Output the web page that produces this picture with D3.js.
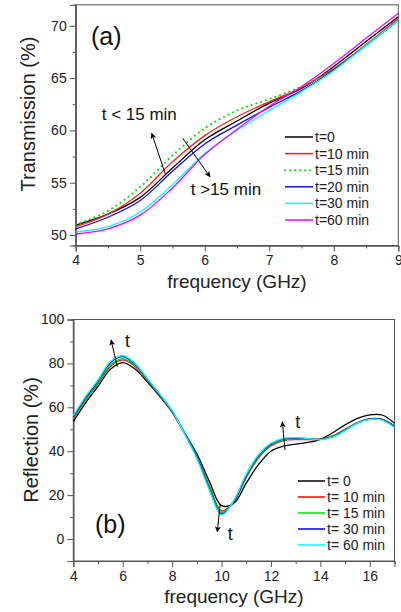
<!DOCTYPE html>
<html><head><meta charset="utf-8">
<script src="https://cdn.jsdelivr.net/npm/d3@7"></script>
<style>
html,body{margin:0;padding:0;background:#fff;}
svg{display:block;font-family:"Liberation Sans",Arial,sans-serif;}
</style></head>
<body>
<svg id="c" width="401" height="612"></svg>
<script>
// ---------- Panel (a) data: Transmission ----------
const freqA = [4, 4.5, 5, 5.5, 6, 6.5, 7, 7.5, 8, 8.5, 9];
const seriesNamesA = ["t=0", "t=10 min", "t=15 min", "t=20 min", "t=30 min", "t=60 min"];
const colorsA = ["#000000", "#ff2020", "#00e000", "#1010e0", "#00ffff", "#ff00ff"];
const trans_t0  = [50.95, 52.0, 53.6, 56.4, 59.1, 60.9, 62.6, 64.0, 66.1, 68.5, 70.85];
const trans_t10 = [50.8, 52.0, 54.0, 57.0, 59.5, 61.3, 62.75, 64.1, 65.9, 68.2, 70.7];
const trans_t15 = [51.0, 52.3, 54.6, 57.6, 60.2, 61.9, 63.0, 64.2, 65.9, 68.2, 70.5];
const trans_t20 = [50.6, 51.7, 53.3, 56.1, 58.7, 60.5, 62.2, 63.8, 65.8, 68.1, 70.5];
const trans_t30 = [50.3, 50.8, 52.2, 54.8, 57.8, 60.0, 61.9, 63.7, 65.7, 68.1, 70.5];
const trans_t60 = [50.1, 50.6, 51.9, 54.5, 57.7, 60.1, 62.3, 64.2, 66.4, 68.8, 71.2];
const xTicksA = [4, 5, 6, 7, 8, 9];
const yTicksA = [50, 55, 60, 65, 70];

// ---------- Panel (b) data: Reflection ----------
const freqB = [4, 4.5, 5, 5.5, 6, 6.5, 7, 7.5, 8, 8.5, 9, 9.5, 10, 10.5, 11, 11.5, 12, 12.5, 13, 13.5, 14, 14.5, 15, 15.5, 16, 16.5, 17];
const seriesNamesB = ["t= 0", "t= 10 min", "t= 15 min", "t= 30 min", "t= 60 min"];
const colorsB = ["#000000", "#ff0000", "#00e000", "#0000ff", "#00ffff"];
const refl_t0  = [53.5, 62.0, 69.5, 77.3, 80.4, 77.5, 71.5, 65.0, 57.8, 48.5, 38.8, 26.5, 15.2, 16.3, 25.5, 34.0, 40.0, 42.3, 43.2, 44.0, 45.4, 48.4, 52.0, 55.0, 56.6, 56.5, 52.7];
const refl_t10 = [54.8, 63.3, 70.7, 78.6, 81.6, 78.6, 72.2, 65.5, 58.0, 48.3, 37.9, 24.5, 12.8, 17.0, 28.0, 37.0, 42.5, 44.8, 45.3, 45.3, 45.5, 47.0, 50.0, 53.0, 54.8, 54.6, 51.5];
const refl_t15 = [55.2, 63.8, 71.2, 79.3, 82.2, 79.0, 72.5, 65.7, 58.1, 48.2, 37.7, 23.8, 12.2, 17.2, 28.5, 37.6, 43.0, 45.2, 45.6, 45.5, 45.5, 46.9, 49.8, 52.9, 54.7, 54.5, 51.3];
const refl_t30 = [55.7, 64.4, 71.9, 80.3, 83.1, 79.6, 72.8, 65.9, 58.3, 48.1, 37.2, 23.0, 11.5, 17.4, 29.0, 38.1, 43.3, 45.6, 46.0, 45.7, 45.4, 46.6, 49.6, 52.9, 54.6, 54.4, 51.1];
const refl_t60 = [56.2, 65.0, 72.5, 80.9, 83.6, 80.0, 73.0, 66.0, 58.5, 48.0, 36.7, 22.5, 11.0, 17.6, 29.5, 38.5, 43.6, 45.9, 46.2, 45.8, 45.2, 46.4, 49.4, 52.8, 54.5, 54.2, 50.8];
const xTicksB = [4, 6, 8, 10, 12, 14, 16];
const yTicksB = [0, 20, 40, 60, 80, 100];

const svg = d3.select("#c");

// arrow marker
svg.append("defs").append("marker")
  .attr("id", "ah").attr("viewBox", "0 0 10 10").attr("refX", 9).attr("refY", 5)
  .attr("markerWidth", 7).attr("markerHeight", 6).attr("markerUnits", "userSpaceOnUse")
  .attr("orient", "auto")
  .append("path").attr("d", "M0,0 L10,5 L0,10 L2.5,5 Z").attr("fill", "#000");

function panel(opt) {
  const g = svg.append("g");
  const x = d3.scaleLinear().domain(opt.xDomain).range([opt.left, opt.right]);
  const y = d3.scaleLinear().domain(opt.yDomain).range([opt.bottom, opt.top]);

  // frame
  g.append("rect").attr("x", opt.left).attr("y", opt.top)
    .attr("width", opt.right - opt.left).attr("height", opt.bottom - opt.top)
    .attr("fill", "none").attr("stroke", "#555").attr("stroke-width", 1);

  // minor ticks
  const gxm = g.append("g").attr("transform", `translate(0,${opt.bottom})`)
    .call(d3.axisBottom(x).tickValues(opt.xMinor).tickSize(3).tickFormat(""));
  const gym = g.append("g").attr("transform", `translate(${opt.left},0)`)
    .call(d3.axisLeft(y).tickValues(opt.yMinor).tickSize(3).tickFormat(""));
  // major ticks
  const gx = g.append("g").attr("transform", `translate(0,${opt.bottom})`)
    .call(d3.axisBottom(x).tickValues(opt.xTicks).tickSize(6).tickPadding(4).tickFormat(d3.format("d")));
  const gy = g.append("g").attr("transform", `translate(${opt.left},0)`)
    .call(d3.axisLeft(y).tickValues(opt.yTicks).tickSize(6).tickPadding(3).tickFormat(d3.format("d")));
  [gxm, gym, gx, gy].forEach(a => {
    a.select(".domain").attr("stroke", "#555");
    a.selectAll("line").attr("stroke", "#555");
    a.selectAll("text").attr("font-size", 14).attr("fill", "#222")
      .attr("font-family", '"Liberation Sans",Arial,sans-serif');
  });

  // lines
  const line = d3.line().x(d => x(d[0])).y(d => y(d[1])).curve(d3.curveCatmullRom.alpha(0.5));
  opt.series.forEach((s, i) => {
    g.append("path").datum(opt.freq.map((f, k) => [f, s[k]]))
      .attr("d", line).attr("fill", "none").attr("stroke", opt.colors[i])
      .attr("stroke-width", opt.dash && opt.dash[i] ? 2 : 1.3)
      .attr("stroke-dasharray", opt.dash && opt.dash[i] ? opt.dash[i] : null)
      .attr("stroke-linecap", opt.dash && opt.dash[i] ? "round" : null);
  });

  // axis titles
  g.append("text").attr("x", (opt.left + opt.right) / 2).attr("y", opt.xTitleY)
    .attr("text-anchor", "middle").attr("font-size", 19).attr("fill", "#222").text("frequency (GHz)");
  g.append("text").attr("transform", `translate(${opt.yTitleX},${opt.yTitleCY}) rotate(-90)`)
    .attr("text-anchor", "middle").attr("font-size", 20).attr("fill", "#222").text(opt.yTitle);

  // legend
  opt.names.forEach((n, i) => {
    const ly = opt.legY + i * opt.legStep;
    g.append("line").attr("x1", opt.legX).attr("x2", opt.legX + opt.legLen)
      .attr("y1", ly).attr("y2", ly).attr("stroke", opt.colors[i])
      .attr("stroke-width", opt.dash && opt.dash[i] ? 2 : 1.5)
      .attr("stroke-dasharray", opt.dash && opt.dash[i] ? opt.dash[i] : null)
      .attr("stroke-linecap", opt.dash && opt.dash[i] ? "round" : null);
    g.append("text").attr("x", opt.legX + opt.legLen + 2).attr("y", ly + 5)
      .attr("font-size", 14).attr("fill", "#222").text(n);
  });

  // annotations
  opt.arrows.forEach(a => {
    g.append("line").attr("x1", x(a[0])).attr("y1", y(a[1])).attr("x2", x(a[2])).attr("y2", y(a[3]))
      .attr("stroke", "#000").attr("stroke-width", 1).attr("marker-end", "url(#ah)");
  });
  opt.labels.forEach(l => {
    g.append("text").attr("x", x(l[0])).attr("y", y(l[1])).attr("font-size", l[3])
      .attr("fill", "#111").text(l[2]);
  });
}

panel({
  xDomain: [4, 9], yDomain: [49, 72],
  left: 75.7, right: 398.3, top: 4.8, bottom: 245.5,
  xTicks: xTicksA, yTicks: yTicksA,
  xMinor: [4.5, 5.5, 6.5, 7.5, 8.5], yMinor: [52.5, 57.5, 62.5, 67.5],
  freq: freqA,
  series: [trans_t0, trans_t10, trans_t15, trans_t20, trans_t30, trans_t60],
  colors: colorsA, names: seriesNamesA,
  dash: [null, null, "0.1,4.9", null, null, null],
  xTitleY: 288, yTitleX: 35, yTitleCY: 114, yTitle: "Transmission (%)",
  legX: 285, legY: 137, legStep: 16.6, legLen: 28,
  arrows: [[5.395, 55.73, 5.178, 59.72], [5.659, 59.24, 6.082, 55.57]],
  labels: [[4.403, 60.99, "t < 15 min", 17], [5.783, 53.82, "t >15 min", 17], [4.237, 68.16, "(a)", 25]]
});

panel({
  xDomain: [4, 17], yDomain: [-10, 100],
  left: 73.3, right: 394.5, top: 319.5, bottom: 561,
  xTicks: xTicksB, yTicks: yTicksB,
  xMinor: [5, 7, 9, 11, 13, 15, 17], yMinor: [-10, 10, 30, 50, 70, 90],
  freq: freqB,
  series: [refl_t0, refl_t10, refl_t15, refl_t30, refl_t60],
  colors: colorsB, names: seriesNamesB,
  dash: null,
  xTitleY: 603, yTitleX: 38, yTitleCY: 440, yTitle: "Reflection (%)",
  legX: 298, legY: 481, legStep: 16, legLen: 27,
  arrows: [[5.78, 78.5, 5.53, 90.66], [9.94, 15.5, 9.83, 3.3], [12.57, 40.5, 12.46, 53.4]],
  labels: [[6.09, 87.6, "t", 18], [10.25, -0.5, "t", 18], [12.98, 50.6, "t", 18], [4.88, 2.7, "(b)", 25]]
});
</script>
</body></html>
